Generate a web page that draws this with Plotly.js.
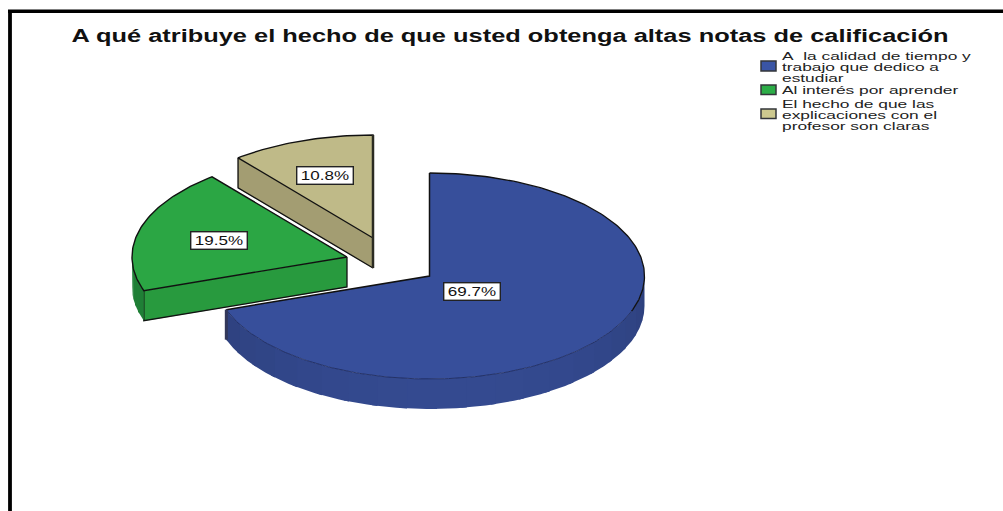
<!DOCTYPE html>
<html>
<head>
<meta charset="utf-8">
<script src="https://cdn.plot.ly/plotly-3.0.1.min.js"></script>
<style>html,body{margin:0;padding:0;background:#fff;overflow:hidden}#chart{width:1003px;height:511px}</style>
</head>
<body>
<div id="chart"></div>
<script>
// ---- data ----
const chartTitle = 'A qué atribuye el hecho de que usted obtenga altas notas de calificación';
const categories = [
  'A\u00a0 la calidad de tiempo y\ntrabajo que dedico a\nestudiar',
  'Al interés por aprender',
  'El hecho de que las\nexplicaciones con el\nprofesor son claras'
];
const percentages = [69.7, 19.5, 10.8];
const percentLabels = ['69.7%', '19.5%', '10.8%'];

// ---- style and layout ----
const topColors = ['#374f9b', '#2ba644', '#bfba88'];
const cutColors = ['#2d3f7e', '#289a3e', '#a39d72'];
const sideColors = ['#344a90', '#1f7f36', '#8d875f'];
const swatchColors = ['#3a55a5', '#2cad47', '#cdc98f'];
const apexes = [[429.5, 276], [347, 257], [373, 238]];
const labelCenters = [[472, 291.5], [218.5, 240], [325, 175]];
const RX = 215, RY = 103, DEPTH = 30;
const INK = '#111111';

const rad = d => d * Math.PI / 180;
const pt = (a, deg, dy) => [a[0] + RX * Math.sin(rad(deg)), a[1] - RY * Math.cos(rad(deg)) + (dy || 0)];
function arc(a, from, to, dy) {
  const out = [], n = Math.max(2, Math.ceil(Math.abs(to - from)));
  for (let i = 0; i <= n; i++) out.push(pt(a, from + (to - from) * i / n, dy));
  return out;
}
const traces = [];
function poly(points, fill, lineColor, lineWidth) {
  traces.push({
    type: 'scatter', mode: 'lines', fill: 'toself', fillcolor: fill,
    x: points.map(p => p[0]), y: points.map(p => p[1]),
    line: {color: lineColor || fill, width: lineWidth === undefined ? 0.6 : lineWidth},
    hoverinfo: 'skip', showlegend: false
  });
}
function stroke(points, color, width) {
  traces.push({
    type: 'scatter', mode: 'lines',
    x: points.map(p => p[0]), y: points.map(p => p[1]),
    line: {color: color, width: width}, hoverinfo: 'skip', showlegend: false
  });
}
function shade(hex, k) {
  const n = parseInt(hex.slice(1), 16);
  const c = [n >> 16, (n >> 8) & 255, n & 255].map(v => Math.round(v * k));
  return 'rgb(' + c.join(',') + ')';
}

// slice angles come from the values, clockwise from 12 o'clock
const total = percentages.reduce((s, v) => s + v, 0);
const angles = []; let acc = 0;
percentages.forEach(v => { angles.push([acc, acc + v / total * 360]); acc += v / total * 360; });

// draw back to front: tan, green, blue
[2, 1, 0].forEach(i => {
  const a = apexes[i], s = angles[i][0], e = angles[i][1];
  // cut face along the starting radius, if it faces the viewer
  if (i > 0) {
    const st = pt(a, s);
    const face = [a, st, [st[0], st[1] + DEPTH], [a[0], a[1] + DEPTH]];
    poly(face, cutColors[i], cutColors[i], 0.5);
    stroke([st, [st[0], st[1] + DEPTH], [a[0], a[1] + DEPTH], a], INK, 1.3);
  }
  // curved side wall, only the front half of the ellipse shows
  const from = Math.max(s, 90), to = Math.min(e, 270);
  if (to > from) {
    const step = i === 0 ? 8 : 4;
    for (let d = from; d < to; d += step) {
      const d2 = Math.min(d + step + 1.5, to);
      const k = i === 0 ? 0.86 + 0.14 * Math.cos(rad((d - 170) * 1.05)) : 1;
      poly(arc(a, d, d2, 0).concat(arc(a, d2, d, DEPTH)), shade(sideColors[i], k), shade(sideColors[i], k), 0);
    }
  }
  // top of the slice
  const top = [a].concat(arc(a, s, e, 0)).concat([a]);
  if (i === 0) {
    poly(top, topColors[i], topColors[i], 0);
    stroke(arc(a, 110, e, 0), '#1e2b60', 0.9);
    stroke(arc(a, 0, 110, 0), INK, 1.3);
    stroke([pt(a, e), a, pt(a, s)], INK, 1.5);
    const en = pt(a, e);
    stroke([en, [en[0], en[1] + DEPTH]], '#33385a', 3);
  } else {
    poly(top, topColors[i], INK, 1.4);
  }
  if (i === 2) stroke([pt(a, e), [a[0], a[1] + DEPTH]], '#2b2b22', 2.5);
});

// ---- annotations: value boxes and legend lines ----
const annotations = percentLabels.map((t, i) => ({
  x: labelCenters[i][0], y: labelCenters[i][1], xref: 'x', yref: 'y', text: t, showarrow: false,
  width: 55, height: 16, bgcolor: '#ffffff', bordercolor: '#222222', borderwidth: 1.4, borderpad: 0,
  font: {family: 'Liberation Sans', size: 13.5, color: '#111'}
}));
const labelCount = annotations.length;
const legendY = [[56, 67, 77.5], [90], [104, 115, 125.5]];
const swatchY = [[61, 71], [85, 94.5], [109, 118.5]];
const shapes = [
  {type: 'line', xref: 'x', yref: 'y', x0: 8, x1: 1003, y0: 11.3, y1: 11.3, line: {color: '#000', width: 3.5}},
  {type: 'line', xref: 'x', yref: 'y', x0: 10, x1: 10, y0: 10, y1: 511, line: {color: '#000', width: 3.8}}
];
categories.forEach((c, i) => {
  c.split('\n').forEach((line, j) => annotations.push({
    x: 780.5, y: legendY[i][j], xref: 'x', yref: 'y', xanchor: 'left', yanchor: 'middle', text: line,
    showarrow: false, borderpad: 0, font: {family: 'Liberation Sans', size: 10.5, color: '#222'}
  }));
  shapes.push({type: 'rect', xref: 'x', yref: 'y', x0: 761, x1: 776, y0: swatchY[i][0], y1: swatchY[i][1],
    fillcolor: swatchColors[i], line: {color: '#33363a', width: 1.5}});
});

const layout = {
  width: 1003, height: 511, margin: {l: 0, r: 0, t: 0, b: 0},
  paper_bgcolor: '#fff', plot_bgcolor: '#fff', showlegend: false,
  title: {text: '<b>' + chartTitle + '</b>', x: 510 / 1003, xanchor: 'center', xref: 'paper',
    y: 1 - 35.5 / 511, yanchor: 'middle', font: {family: 'Liberation Sans', size: 18, color: '#111'}},
  xaxis: {range: [0, 1003], visible: false, fixedrange: true},
  yaxis: {range: [511, 0], visible: false, fixedrange: true},
  annotations: annotations, shapes: shapes, hovermode: false
};

function stretch(el, target) {
  el.setAttribute('textLength', target);
  el.setAttribute('lengthAdjust', 'spacingAndGlyphs');
}
Plotly.newPlot('chart', traces, layout, {staticPlot: true, displayModeBar: false}).then(gd => {
  const t = gd.querySelector('.gtitle');
  if (t) stretch(t, 877);
  gd.querySelectorAll('.annotation-text').forEach((el, i) => {
    const w = el.getComputedTextLength();
    const target = w * (i < labelCount ? 1.26 : 1.65);
    stretch(el, target);
    if (i >= labelCount) {
      // keep the left edge fixed: the text grows to the right only
      const x = parseFloat(el.getAttribute('x')) || 0;
      el.setAttribute('x', x + (target - w) / 2);
    }
  });
});
</script>
</body>
</html>
